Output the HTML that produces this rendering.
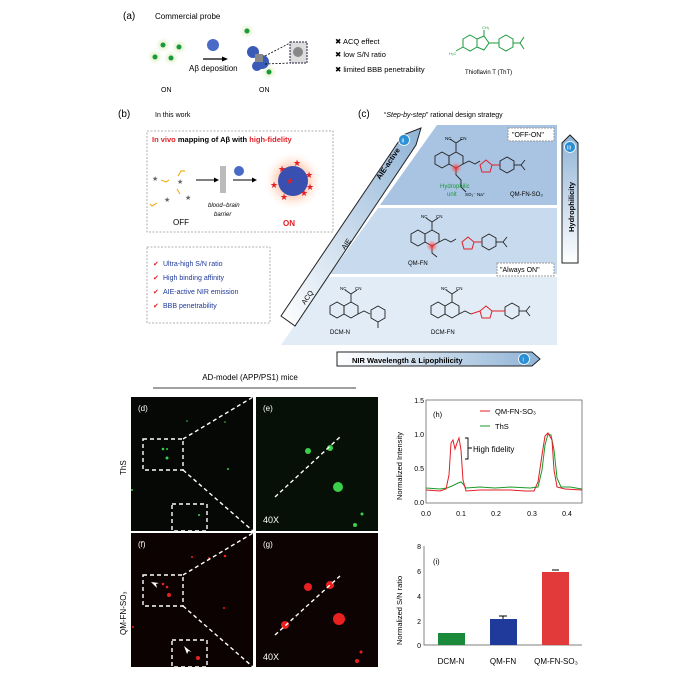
<!DOCTYPE html>
<html><head><meta charset="utf-8"><style>
html,body{margin:0;padding:0;background:#fff}
svg{display:block;font-family:"Liberation Sans",Arial,sans-serif}
</style></head><body>
<svg width="700" height="673" viewBox="0 0 700 673" xmlns="http://www.w3.org/2000/svg">
<defs>
<radialGradient id="gg"><stop offset="0" stop-color="#c8e6a0" stop-opacity="0.9"/><stop offset="1" stop-color="#e8f5d8" stop-opacity="0"/></radialGradient>
<radialGradient id="rg"><stop offset="0" stop-color="#ff6a4a" stop-opacity="0.8"/><stop offset="0.6" stop-color="#ffc0a0" stop-opacity="0.5"/><stop offset="1" stop-color="#fff" stop-opacity="0"/></radialGradient>
<radialGradient id="rn"><stop offset="0" stop-color="#ff2020" stop-opacity="0.9"/><stop offset="1" stop-color="#ff8080" stop-opacity="0"/></radialGradient>
<linearGradient id="bar1" x1="0" y1="0" x2="1" y2="0"><stop offset="0" stop-color="#fff"/><stop offset="1" stop-color="#8fb3d6"/></linearGradient>
<linearGradient id="bar2" x1="0" y1="1" x2="0" y2="0"><stop offset="0" stop-color="#fff"/><stop offset="1" stop-color="#8fb3d6"/></linearGradient>
<linearGradient id="bar3" x1="0" y1="1" x2="1" y2="0"><stop offset="0" stop-color="#fff"/><stop offset="1" stop-color="#8fb3d6"/></linearGradient>
</defs>
<rect width="700" height="673" fill="#fff"/>

<!-- (a) -->
<text x="123" y="19" font-size="10">(a)</text>
<text x="155" y="19" font-size="8">Commercial probe</text>
<g>
<circle cx="163" cy="45" r="8" fill="url(#gg)"/><circle cx="163" cy="45" r="2.5" fill="#1a9a3a"/>
<circle cx="179" cy="47" r="8" fill="url(#gg)"/><circle cx="179" cy="47" r="2.5" fill="#1a9a3a"/>
<circle cx="155" cy="57" r="8" fill="url(#gg)"/><circle cx="155" cy="57" r="2.5" fill="#1a9a3a"/>
<circle cx="171" cy="58" r="8" fill="url(#gg)"/><circle cx="171" cy="58" r="2.5" fill="#1a9a3a"/>
<circle cx="247" cy="31" r="8" fill="url(#gg)"/><circle cx="247" cy="31" r="2.5" fill="#1a9a3a"/>
<circle cx="269" cy="72" r="8" fill="url(#gg)"/><circle cx="269" cy="72" r="2.5" fill="#1a9a3a"/>
</g>
<circle cx="213" cy="45" r="6" fill="#4a6ac8"/>
<line x1="203" y1="59" x2="224" y2="59" stroke="#000" stroke-width="1.2"/><polygon points="228,59 222,56.5 222,61.5"/>
<text x="189" y="71" font-size="8">Aβ deposition</text>
<circle cx="253" cy="52" r="6" fill="#3a5ab8"/><circle cx="262" cy="62" r="7" fill="#3a5ab8"/><circle cx="257" cy="66" r="5" fill="#3a5ab8"/>
<rect x="255" y="54" width="8" height="8" fill="#888"/>
<line x1="265" y1="56" x2="290" y2="43" stroke="#000" stroke-dasharray="2,1.5" stroke-width="0.8"/>
<line x1="265" y1="64" x2="290" y2="63" stroke="#000" stroke-dasharray="2,1.5" stroke-width="0.8"/>
<rect x="290" y="42" width="17" height="21" fill="#ddd" stroke="#224" stroke-dasharray="2,1" stroke-width="1"/>
<circle cx="298" cy="52" r="5" fill="#888"/>
<text x="161" y="92" font-size="7">ON</text><text x="259" y="92" font-size="7">ON</text>
<g font-size="7.5"><text x="335" y="44">✖ ACQ effect</text><text x="335" y="57">✖ low S/N ratio</text><text x="335" y="72">✖ limited BBB penetrability</text></g>
<g stroke="#1a9a3a" fill="none" stroke-width="1">
<polygon points="470,35 477,39 477,47 470,51 463,47 463,39"/>
<polygon points="477,39 484,36 489,43 484,50 477,47"/>
<line x1="489" y1="43" x2="499" y2="43"/>
<polygon points="506,35 513,39 513,47 506,51 499,47 499,39"/>
<line x1="513" y1="43" x2="520" y2="43"/><line x1="520" y1="43" x2="524" y2="37"/><line x1="520" y1="43" x2="524" y2="49"/>
<line x1="463" y1="47" x2="456" y2="51"/><line x1="484" y1="36" x2="484" y2="30"/>
</g>
<text x="449" y="55" font-size="4" fill="#1a9a3a">H₃C</text><text x="482" y="29" font-size="4" fill="#1a9a3a">CH₃</text>
<text x="465" y="74" font-size="6">Thioflavin T (ThT)</text>

<!-- (b) -->
<text x="118" y="117" font-size="10">(b)</text>
<text x="155" y="117" font-size="7">In this work</text>
<rect x="147" y="131" width="186" height="101" fill="none" stroke="#999" stroke-dasharray="2,1.5" stroke-width="0.8"/>
<text x="152" y="142" font-size="7.5" font-weight="bold"><tspan fill="#e21f26">In vivo</tspan> mapping of Aβ with <tspan fill="#e21f26">high-fidelity</tspan></text>
<g font-size="7" fill="#666"><text x="152" y="181">★</text><text x="177" y="184">★</text><text x="185" y="200">★</text><text x="164" y="202">★</text></g>
<g stroke="#f0b020" fill="none" stroke-width="1.2"><path d="M161,180 l5,2 l3,-2"/><path d="M178,176 l3,-5 l4,0"/><path d="M157,203 l-5,3 l-2,-2"/><path d="M180,194 l-3,-5"/></g>
<line x1="196" y1="180" x2="215" y2="180" stroke="#000"/><polygon points="219,180 214,177.5 214,182.5"/>
<g stroke="#555" stroke-width="0.8"><line x1="221" y1="166" x2="221" y2="193"/><line x1="223" y1="166" x2="223" y2="193"/><line x1="225" y1="166" x2="225" y2="193"/></g>
<circle cx="239" cy="171" r="5" fill="#4a6ac8"/>
<line x1="233" y1="180" x2="253" y2="180" stroke="#000"/><polygon points="257,180 252,177.5 252,182.5"/>
<circle cx="293" cy="181" r="30" fill="url(#rg)"/>
<circle cx="293" cy="181" r="15" fill="#3a50b0"/>
<g font-size="9" fill="#e21f26"><text x="278" y="172">★</text><text x="293" y="166">★</text><text x="305" y="178">★</text><text x="270" y="188">★</text><text x="286" y="184">★</text><text x="300" y="196">★</text><text x="280" y="200">★</text><text x="306" y="190">★</text></g>
<text x="173" y="225" font-size="8">OFF</text>
<text x="208" y="207" font-size="6" font-style="italic">blood−brain</text><text x="214" y="216" font-size="6" font-style="italic">barrier</text>
<text x="283" y="226" font-size="8" font-weight="bold" fill="#e21f26">ON</text>
<rect x="147" y="247" width="123" height="76" fill="none" stroke="#999" stroke-dasharray="2,1.5" stroke-width="0.8"/>
<g font-size="7" fill="#1f3a9a"><text x="163" y="266">Ultra-high S/N ratio</text><text x="163" y="280">High binding affinity</text><text x="163" y="294">AIE-active NIR emission</text><text x="163" y="308">BBB penetrability</text></g>
<g font-size="7" fill="#e21f26"><text x="153" y="266">✔</text><text x="153" y="280">✔</text><text x="153" y="294">✔</text><text x="153" y="308">✔</text></g>

<!-- (c) -->
<text x="358" y="117" font-size="10">(c)</text>
<text x="384" y="117" font-size="7">“<tspan font-style="italic">Step-by-step</tspan>” rational design strategy</text>
<polygon points="437,125 557,125 557,205 380,205" fill="#a9c4e2"/>
<polygon points="378,208 557,208 557,274 330,274" fill="#c8daee"/>
<polygon points="328,277 557,277 557,345 281,345" fill="#e1ecf7"/>
<!-- diagonal arrow -->
<polygon points="281,316 295,326 416,145 421,128 403,135" fill="url(#bar3)" stroke="#222" stroke-width="1"/>
<circle cx="404" cy="140" r="5.5" fill="#2b8fd6" stroke="#fff" stroke-width="0.8"/><text x="401.5" y="142.5" font-size="6" fill="#fff">ii</text>
<text transform="translate(380,180) rotate(-56)" font-size="7.5" font-weight="bold">AIE-active</text>
<text transform="translate(345,250) rotate(-56)" font-size="7">AIE</text>
<text transform="translate(305,305) rotate(-56)" font-size="7">ACQ</text>
<!-- right arrow -->
<polygon points="562,263 578,263 578,143 570,135 562,143" fill="url(#bar2)" stroke="#222" stroke-width="1"/>
<circle cx="570" cy="147" r="5.5" fill="#2b8fd6" stroke="#fff" stroke-width="0.8"/><text x="567" y="149.5" font-size="6" fill="#fff">iii</text>
<text transform="translate(574,232) rotate(-90)" font-size="7.5" font-weight="bold">Hydrophilicity</text>
<!-- bottom arrow -->
<polygon points="337,352 532,352 540,359 532,366 337,366" fill="url(#bar1)" stroke="#222" stroke-width="1"/>
<text x="352" y="363" font-size="7.5" font-weight="bold">NIR Wavelength &amp; Lipophilicity</text>
<circle cx="524" cy="359" r="5.5" fill="#2b8fd6" stroke="#fff" stroke-width="0.8"/><text x="522.5" y="361.5" font-size="6" fill="#fff">i</text>
<rect x="508" y="128" width="46" height="13" fill="#fff" stroke="#999" stroke-dasharray="2,1"/><text x="512" y="137" font-size="7">"OFF-ON"</text>
<rect x="497" y="263" width="57" height="13" fill="#fff" stroke="#999" stroke-dasharray="2,1"/><text x="500" y="272" font-size="7">"Always ON"</text>
<!-- molecules -->
<g stroke="#222" fill="none" stroke-width="0.9">
<polygon points="442,152 449,156 449,164 442,168 435,164 435,156"/>
<polygon points="456,152 463,156 463,164 456,168 449,164 449,156"/>
<line x1="456" y1="152" x2="456" y2="143"/><line x1="456" y1="143" x2="450" y2="139"/><line x1="456" y1="143" x2="462" y2="139"/>
<path d="M463,164 l6,-3 l6,3 l5,-3"/><path d="M456,168 l0,7 l5,5 l0,7 l5,5"/>
<polygon points="507,157 514,161 514,169 507,173 500,169 500,161"/><line x1="514" y1="165" x2="521" y2="165"/><line x1="521" y1="165" x2="525" y2="160"/><line x1="521" y1="165" x2="525" y2="170"/>
<polygon points="418,230 425,234 425,242 418,246 411,242 411,234"/>
<polygon points="432,230 439,234 439,242 432,246 425,242 425,234"/>
<line x1="432" y1="230" x2="432" y2="222"/><line x1="432" y1="222" x2="426" y2="218"/><line x1="432" y1="222" x2="438" y2="218"/>
<path d="M439,242 l6,-3 l6,3 l5,-3"/><path d="M432,246 l0,7 l5,4"/>
<polygon points="489,234 496,238 496,246 489,250 482,246 482,238"/><line x1="496" y1="242" x2="503" y2="242"/><line x1="503" y1="242" x2="507" y2="237"/><line x1="503" y1="242" x2="507" y2="247"/>
<polygon points="337,302 344,306 344,314 337,318 330,314 330,306"/>
<polygon points="351,302 358,306 358,314 351,318 344,314 344,306"/>
<line x1="351" y1="302" x2="351" y2="294"/><line x1="351" y1="294" x2="345" y2="290"/><line x1="351" y1="294" x2="357" y2="290"/>
<path d="M358,314 l6,-3 l6,3"/>
<polygon points="378,306 385,310 385,318 378,322 371,318 371,310"/><line x1="378" y1="322" x2="378" y2="328"/>
<polygon points="438,302 445,306 445,314 438,318 431,314 431,306"/>
<polygon points="452,302 459,306 459,314 452,318 445,314 445,306"/>
<line x1="452" y1="302" x2="452" y2="294"/><line x1="452" y1="294" x2="446" y2="290"/><line x1="452" y1="294" x2="458" y2="290"/>
<path d="M459,314 l6,-3 l6,3"/>
<polygon points="512,303 519,307 519,315 512,319 505,315 505,307"/><line x1="519" y1="311" x2="526" y2="311"/><line x1="526" y1="311" x2="530" y2="306"/><line x1="526" y1="311" x2="530" y2="316"/>
</g>
<g stroke="#e21f26" fill="none" stroke-width="1">
<polygon points="486,160 492,165 490,172 482,172 480,165"/><line x1="492" y1="165" x2="500" y2="165"/>
<polygon points="468,237 474,242 472,249 464,249 462,242"/><line x1="474" y1="242" x2="482" y2="242"/>
<polygon points="486,306 492,311 490,318 482,318 480,311"/><line x1="471" y1="314" x2="480" y2="311"/><line x1="492" y1="311" x2="505" y2="311"/>
</g>
<circle cx="456" cy="168" r="6" fill="url(#rn)"/><circle cx="432" cy="246" r="6" fill="url(#rn)"/>
<g font-size="4.5"><text x="445" y="140">NC</text><text x="460" y="140">CN</text><text x="421" y="218">NC</text><text x="436" y="218">CN</text><text x="340" y="290">NC</text><text x="355" y="290">CN</text><text x="441" y="290">NC</text><text x="456" y="290">CN</text></g>
<text x="440" y="188" font-size="6" fill="#1a9a3a">Hydrophilic</text><text x="447" y="196" font-size="6" fill="#1a9a3a">unit</text>
<text x="465" y="196" font-size="4.5">SO₃⁻ Na⁺</text>
<text x="510" y="196" font-size="6">QM-FN-SO₃</text>
<text x="408" y="265" font-size="6">QM-FN</text>
<text x="330" y="334" font-size="6">DCM-N</text><text x="431" y="334" font-size="6">DCM-FN</text>

<!-- AD-model -->
<text x="250" y="380" font-size="8" text-anchor="middle">AD-model (APP/PS1) mice</text>
<line x1="153" y1="388" x2="356" y2="388" stroke="#000" stroke-width="0.8"/>
<rect x="131" y="397" width="122" height="134" fill="#050805"/>
<rect x="256" y="397" width="122" height="134" fill="#061006"/>
<rect x="131" y="533" width="122" height="134" fill="#0c0202"/>
<rect x="256" y="533" width="122" height="134" fill="#0d0303"/>
<g fill="#3ad04a"><circle cx="163" cy="449" r="1.3"/><circle cx="167" cy="449" r="1"/><circle cx="167" cy="458" r="1.5"/><circle cx="187" cy="421" r="0.8"/><circle cx="225" cy="422" r="0.8"/><circle cx="228" cy="469" r="1"/><circle cx="199" cy="515" r="1"/><circle cx="132" cy="490" r="1"/>
<circle cx="308" cy="451" r="3"/><circle cx="330" cy="448" r="3"/><circle cx="338" cy="487" r="5"/><circle cx="355" cy="525" r="2"/><circle cx="362" cy="514" r="1.5"/></g>
<g fill="#e82020"><circle cx="163" cy="584" r="1.3"/><circle cx="167" cy="587" r="1.3"/><circle cx="169" cy="595" r="2"/><circle cx="192" cy="557" r="1"/><circle cx="209" cy="558" r="1"/><circle cx="225" cy="556" r="1.3"/><circle cx="224" cy="608" r="1"/><circle cx="198" cy="658" r="2"/><circle cx="133" cy="627" r="1"/>
<circle cx="308" cy="587" r="4"/><circle cx="330" cy="585" r="4"/><circle cx="285" cy="625" r="4"/><circle cx="339" cy="619" r="6"/><circle cx="357" cy="661" r="2"/><circle cx="361" cy="652" r="1.5"/></g>
<g fill="none" stroke="#fff" stroke-dasharray="4,3" stroke-width="1.4">
<rect x="143" y="439" width="40" height="31"/><rect x="172" y="504" width="35" height="27"/>
<line x1="183" y1="439" x2="253" y2="397"/><line x1="183" y1="470" x2="253" y2="531"/>
<line x1="275" y1="497" x2="340" y2="437"/>
<rect x="143" y="575" width="40" height="31"/><rect x="172" y="640" width="35" height="27"/>
<line x1="183" y1="575" x2="253" y2="533"/><line x1="183" y1="606" x2="253" y2="667"/>
<line x1="275" y1="635" x2="340" y2="576"/>
</g>
<g fill="#fff"><text x="138" y="411" font-size="8">(d)</text><text x="263" y="411" font-size="8">(e)</text><text x="138" y="547" font-size="8">(f)</text><text x="263" y="547" font-size="8">(g)</text>
<text x="263" y="523" font-size="9">40X</text><text x="263" y="660" font-size="9">40X</text>
<path d="M151,582 l6,6 l-1,-4 l3,-1 z"/><path d="M184,646 l3,8 l1.5,-3 l3,1 z"/></g>
<text transform="translate(126,475) rotate(-90)" font-size="8">ThS</text>
<text transform="translate(126,635) rotate(-90)" font-size="8">QM-FN-SO₃</text>

<!-- (h) -->
<rect x="426" y="400" width="156" height="103" fill="none" stroke="#555" stroke-width="0.7"/>
<g font-size="7" text-anchor="end"><text x="424" y="403">1.5</text><text x="424" y="437">1.0</text><text x="424" y="471">0.5</text><text x="424" y="505">0.0</text></g>
<g font-size="7" text-anchor="middle"><text x="426" y="516">0.0</text><text x="461" y="516">0.1</text><text x="496" y="516">0.2</text><text x="532" y="516">0.3</text><text x="567" y="516">0.4</text></g>
<text transform="translate(402,500) rotate(-90)" font-size="7.5">Normalized Intensity</text>
<polyline fill="none" stroke="#1a9a2a" stroke-width="1" points="426,488 440,489 447,488 452,486 458,483 461,482 463,484 466,488 480,487 495,488 510,487 530,488 538,487 542,470 545,445 548,434 551,435 554,450 557,478 561,487 570,487 582,489"/>
<polyline fill="none" stroke="#e21f26" stroke-width="1" points="426,490 440,491 446,489 449,475 451,443 453,440 455,449 457,443 459,438 461,450 463,480 466,491 480,490 495,490 510,490 525,491 534,491 538,482 542,455 545,436 548,433 552,440 554,470 557,487 565,489 582,490"/>
<path d="M465,438 h3 v21 h-3 M468,448 h4" fill="none" stroke="#000" stroke-width="0.9"/>
<text x="473" y="452" font-size="8">High fidelity</text>
<text x="433" y="417" font-size="7.5">(h)</text>
<line x1="480" y1="411" x2="490" y2="411" stroke="#e21f26" stroke-width="1"/><text x="495" y="414" font-size="7.5">QM-FN-SO₃</text>
<line x1="480" y1="426" x2="490" y2="426" stroke="#1a9a2a" stroke-width="1"/><text x="495" y="429" font-size="7.5">ThS</text>

<!-- (i) -->
<path d="M424,546 V645 H582" fill="none" stroke="#555" stroke-width="0.7"/>
<g font-size="7" text-anchor="end"><text x="421" y="549">8</text><text x="421" y="574">6</text><text x="421" y="599">4</text><text x="421" y="624">2</text><text x="421" y="648">0</text></g>
<text transform="translate(402,645) rotate(-90)" font-size="7.5">Normalized S/N ratio</text>
<text x="433" y="564" font-size="7.5">(i)</text>
<rect x="438" y="633" width="27" height="12" fill="#1a8a3a"/>
<rect x="490" y="619" width="27" height="26" fill="#1f3a9a"/><line x1="503" y1="616" x2="503" y2="619" stroke="#000"/><line x1="499" y1="616" x2="507" y2="616" stroke="#000"/>
<rect x="542" y="572" width="27" height="73" fill="#e23a3a"/><line x1="552" y1="570" x2="559" y2="570" stroke="#000"/>
<g font-size="8" text-anchor="middle"><text x="451" y="664">DCM-N</text><text x="503" y="664">QM-FN</text><text x="556" y="664">QM-FN-SO₃</text></g>
</svg>
</body></html>
